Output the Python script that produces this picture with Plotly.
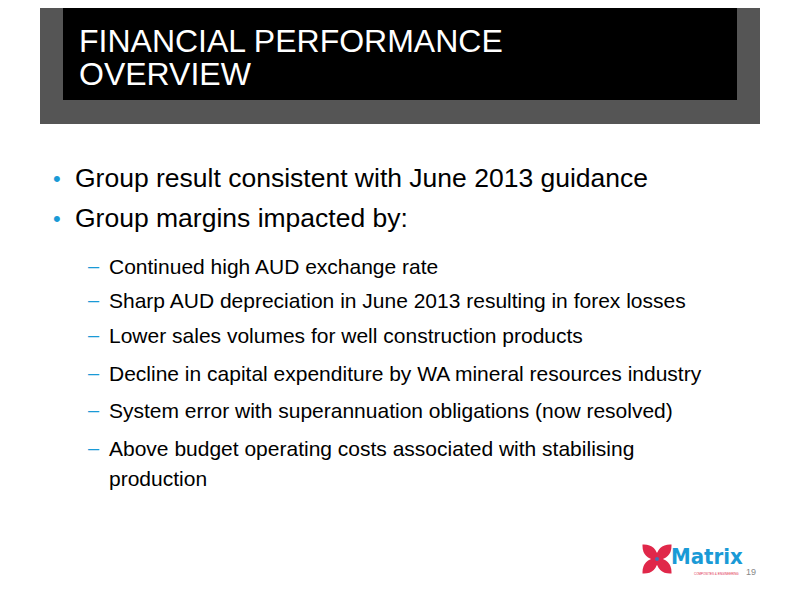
import plotly.graph_objects as go

title_lines = ["FINANCIAL PERFORMANCE", "OVERVIEW"]
bullets = ["Group result consistent with June 2013 guidance",
           "Group margins impacted by:"]
bullet_y = [178, 218]
subs = ["Continued high AUD exchange rate",
        "Sharp AUD depreciation in June 2013 resulting in forex losses",
        "Lower sales volumes for well construction products",
        "Decline in capital expenditure by WA mineral resources industry",
        "System error with superannuation obligations (now resolved)",
        "Above budget operating costs associated with stabilising",
        "production"]
sub_y = [266, 300, 335, 373, 410, 448, 478]
sub_dash = [True, True, True, True, True, True, False]

blue = "#1a9ad6"
red = "#e0284a"
fig = go.Figure()
fig.add_shape(type="rect", x0=40, x1=760, y0=0, y1=124, fillcolor="#555555", line_width=0, layer="below")
fig.add_shape(type="rect", x0=63, x1=737, y0=0, y1=100, fillcolor="#000000", line_width=0, layer="below")

ann = []
for i, t in enumerate(title_lines):
    ann.append(dict(x=77, y=41 + i * 33, text=t, font=dict(size=32, color="white", family="Liberation Sans")))
for t, y in zip(bullets, bullet_y):
    ann.append(dict(x=51, y=y, text="•", font=dict(size=22, color=blue, family="Liberation Sans")))
    ann.append(dict(x=73, y=y, text=t, font=dict(size=26.5, color="black", family="Liberation Sans")))
for t, y, d in zip(subs, sub_y, sub_dash):
    if d:
        ann.append(dict(x=86, y=y, text="–", font=dict(size=20, color=blue, family="Liberation Sans")))
    ann.append(dict(x=107, y=y, text=t, font=dict(size=21, color="black", family="Liberation Sans")))
# logo
ann.append(dict(x=669, y=556, text="<b>Matrix</b>", font=dict(size=22, color=blue, family="DejaVu Sans Condensed")))
ann.append(dict(x=692, y=574, text="COMPOSITES & ENGINEERING", font=dict(size=3, color=red, family="Liberation Sans")))
ann.append(dict(x=744, y=572, text="19", font=dict(size=9, color="#888888", family="Liberation Sans")))
for a in ann:
    a.update(xref="x", yref="y", xanchor="left", yanchor="middle", showarrow=False)

# red cross petals pointing to the centre
cx, cy = 657, 559
for dx, dy in [(-1, -1), (1, -1), (-1, 1), (1, 1)]:
    ox, oy = cx + dx * 13, cy + dy * 13
    path = (f"M {cx} {cy} Q {cx + dx * 2} {oy} {ox} {oy} "
            f"Q {ox} {cy + dy * 2} {cx} {cy} Z")
    fig.add_shape(type="path", path=path, fillcolor=red, line=dict(color=red, width=3))
fig.add_shape(type="circle", x0=cx - 2, x1=cx + 2, y0=cy - 2, y1=cy + 2, fillcolor="#4a6fb0", line_width=0)

fig.update_layout(width=800, height=600, margin=dict(l=0, r=0, t=0, b=0),
                  plot_bgcolor="white", paper_bgcolor="white", annotations=ann,
                  xaxis=dict(range=[8, 808], visible=False, fixedrange=True),
                  yaxis=dict(range=[608, 8], visible=False, fixedrange=True),
                  showlegend=False)
fig.write_html("out.html")
